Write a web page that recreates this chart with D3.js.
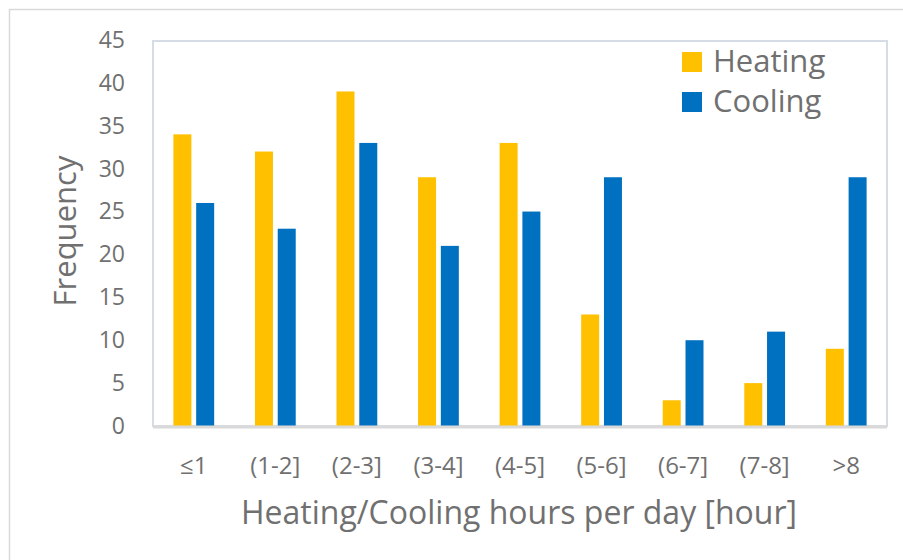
<!DOCTYPE html>
<html>
<head>
<meta charset="utf-8">
<script src="https://cdn.jsdelivr.net/npm/d3@7"></script>
<style>
  html, body { margin: 0; padding: 0; background: #fff; }
  svg { display: block; }
</style>
</head>
<body>
<svg id="chart" width="903" height="560"></svg>
<script>
const categories = ["≤1", "(1-2]", "(2-3]", "(3-4]", "(4-5]", "(5-6]", "(6-7]", "(7-8]", ">8"];
const seriesNames = ["Heating", "Cooling"];
const heating = [34, 32, 39, 29, 33, 13, 3, 5, 9];
const cooling = [26, 23, 33, 21, 25, 29, 10, 11, 29];
const yTicks = [0, 5, 10, 15, 20, 25, 30, 35, 40, 45];
const colors = ["#FFC000", "#0070C0"];

const font = "'Open Sans', 'Noto Sans', sans-serif";
const textColor = "#707070";

const svg = d3.select("#chart");

// outer chart frame
svg.append("rect")
  .attr("x", 9.5).attr("y", 9.5)
  .attr("width", 903).attr("height", 560)
  .attr("fill", "#fff").attr("stroke", "#d9d9d9").attr("stroke-width", 1.5);

const plot = { left: 153, right: 887, top: 40, bottom: 426 };

const x = d3.scaleBand().domain(categories)
  .range([plot.left, plot.right]).paddingInner(0.5).paddingOuter(0.25);
const x1 = d3.scaleBand().domain(seriesNames)
  .range([0, x.bandwidth()]).paddingInner(0.21);
const y = d3.scaleLinear().domain([0, 45]).range([plot.bottom, plot.top]);

// plot area border
svg.append("rect")
  .attr("x", plot.left).attr("y", plot.top + 1)
  .attr("width", plot.right - plot.left).attr("height", plot.bottom - plot.top - 1)
  .attr("fill", "none").attr("stroke", "#d6dce5").attr("stroke-width", 2);

const rows = categories.map((c, i) => ({ cat: c, values: [heating[i], cooling[i]] }));

const g = svg.append("g");
rows.forEach(r => {
  r.values.forEach((v, j) => {
    g.append("rect")
      .attr("x", x(r.cat) + x1(seriesNames[j]))
      .attr("y", y(v))
      .attr("width", x1.bandwidth())
      .attr("height", y(0) - y(v))
      .attr("fill", colors[j]);
  });
});

// x axis line
svg.append("line")
  .attr("x1", plot.left).attr("x2", plot.right)
  .attr("y1", plot.bottom + 1).attr("y2", plot.bottom + 1)
  .attr("stroke", "#d9d9d9").attr("stroke-width", 3);

// y axis
const yAxis = svg.append("g")
  .attr("transform", `translate(${plot.left},0)`)
  .call(d3.axisLeft(y).tickValues(yTicks).tickSize(0).tickPadding(28));
yAxis.select(".domain").remove();
yAxis.selectAll("text")
  .attr("fill", textColor).style("font-family", font).style("font-size", "23px");

// x axis
const xAxis = svg.append("g")
  .attr("transform", `translate(0,${plot.bottom})`)
  .call(d3.axisBottom(x).tickSize(0).tickPadding(31));
xAxis.select(".domain").remove();
xAxis.selectAll("text")
  .attr("fill", textColor).style("font-family", font).style("font-size", "24px");

// axis titles
svg.append("text")
  .attr("x", 519).attr("y", 524)
  .attr("text-anchor", "middle")
  .attr("fill", textColor).style("font-family", font).style("font-size", "32px")
  .text("Heating/Cooling hours per day [hour]");

svg.append("text")
  .attr("transform", "translate(76,231) rotate(-90)")
  .attr("text-anchor", "middle")
  .attr("fill", textColor).style("font-family", font).style("font-size", "31px")
  .text("Frequency");

// legend
const legend = svg.append("g");
seriesNames.forEach((s, i) => {
  const ly = 52 + i * 40;
  legend.append("rect")
    .attr("x", 682).attr("y", ly).attr("width", 20).attr("height", 20)
    .attr("fill", colors[i]);
  legend.append("text")
    .attr("x", 713).attr("y", ly + 20)
    .attr("fill", textColor).style("font-family", font).style("font-size", "31px")
    .text(s);
});
</script>
</body>
</html>
